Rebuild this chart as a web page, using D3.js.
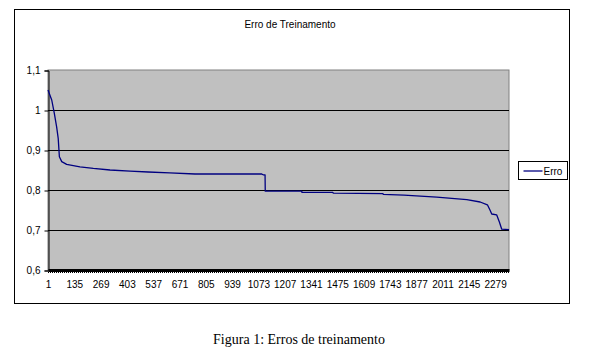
<!DOCTYPE html>
<html><head><meta charset="utf-8">
<script src="https://cdn.jsdelivr.net/npm/d3@7"></script>
<style>
html,body{margin:0;padding:0;background:#fff;}
svg{display:block;}
</style></head>
<body>
<script>
// ---- data ----
const nIterations = 2350;
const iterations = [1, 20, 33, 45, 53, 59, 71, 96, 164, 232, 317, 419, 511, 621, 750, 1090, 1097, 1107, 1108, 1294, 1295, 1453, 1454, 1708, 1709, 1815, 1982, 2135, 2203, 2240, 2253, 2262, 2287, 2301, 2313, 2350];
const errors     = [1.05, 1.025, 0.992, 0.958, 0.929, 0.883, 0.871, 0.864, 0.858, 0.854, 0.850, 0.847, 0.845, 0.843, 0.840, 0.840, 0.838, 0.838, 0.797, 0.797, 0.794, 0.794, 0.792, 0.791, 0.789, 0.787, 0.782, 0.776, 0.770, 0.763, 0.750, 0.740, 0.738, 0.720, 0.702, 0.701];
const xTickValues = [1, 135, 269, 403, 537, 671, 805, 939, 1073, 1207, 1341, 1475, 1609, 1743, 1877, 2011, 2145, 2279];
const yTickValues = [0.6, 0.7, 0.8, 0.9, 1.0, 1.1];
const yTickLabels = ["0,6", "0,7", "0,8", "0,9", "1", "1,1"];
const seriesName = "Erro";
const chartTitle = "Erro de Treinamento";
const caption = "Figura 1: Erros de treinamento";

// ---- layout ----
const W = 601, H = 361;
const plot = {x0: 48, x1: 509, y0: 70, y1: 270};
const svg = d3.select("body").append("svg").attr("width", W).attr("height", H);
const sans = "Arial, 'Liberation Sans', sans-serif";

// outer chart frame
svg.append("rect").attr("x", 14.5).attr("y", 9.5).attr("width", 555).attr("height", 294)
  .attr("fill", "#fff").attr("stroke", "#000").attr("stroke-width", 1);

// title
svg.append("text").attr("x", 290).attr("y", 28).attr("text-anchor", "middle")
  .attr("font-family", sans).attr("font-size", 10).attr("fill", "#000").text(chartTitle);

const x = d3.scaleLinear().domain([1, nIterations]).range([plot.x0, plot.x1]);
const y = d3.scaleLinear().domain([0.6, 1.1]).range([plot.y1, plot.y0]);

// plot background
svg.append("rect").attr("x", plot.x0).attr("y", plot.y0)
  .attr("width", plot.x1 - plot.x0).attr("height", plot.y1 - plot.y0)
  .attr("fill", "#c0c0c0").attr("stroke", "#808080").attr("stroke-width", 1);

// gridlines
svg.append("g").selectAll("line").data(yTickValues.filter(v => v > 0.6 && v < 1.1)).join("line")
  .attr("x1", plot.x0).attr("x2", plot.x1)
  .attr("y1", d => Math.round(y(d)) + 0.5).attr("y2", d => Math.round(y(d)) + 0.5)
  .attr("stroke", "#000").attr("stroke-width", 1);

// y axis
const yAxis = d3.axisLeft(y).tickValues(yTickValues).tickSize(4).tickPadding(4)
  .tickFormat((d, i) => yTickLabels[i]);
const gy = svg.append("g").attr("transform", `translate(${plot.x0 + 0.5},0.5)`).call(yAxis);
gy.select(".domain").attr("stroke", "#000");
gy.selectAll(".tick line").attr("stroke", "#000");
gy.selectAll("text").attr("font-family", sans).attr("font-size", 10).attr("fill", "#000");

// x axis
const xAxis = d3.axisBottom(x).tickValues(xTickValues).tickSize(0).tickPadding(11)
  .tickFormat(d3.format("d"));
const gx = svg.append("g").attr("transform", `translate(0,${plot.y1})`).call(xAxis);
gx.select(".domain").attr("stroke", "#000").attr("stroke-width", 3);
gx.selectAll("text").attr("font-family", sans).attr("font-size", 10).attr("fill", "#000");
// dense category tick marks below the axis
svg.append("line").attr("x1", plot.x0).attr("x2", plot.x1)
  .attr("y1", plot.y1 + 2.5).attr("y2", plot.y1 + 2.5)
  .attr("stroke", "#000").attr("stroke-width", 1).attr("stroke-dasharray", "1,1");

// series line
const line = d3.line().x((d, i) => x(iterations[i])).y(d => y(d));
svg.append("path").datum(errors).attr("d", line)
  .attr("fill", "none").attr("stroke", "#000080").attr("stroke-width", 1.3)
  .attr("stroke-linejoin", "round");

// legend
const lg = svg.append("g").attr("transform", "translate(518.5,161.5)");
lg.append("rect").attr("width", 49).attr("height", 18).attr("fill", "#fff")
  .attr("stroke", "#000").attr("stroke-width", 1);
lg.append("line").attr("x1", 5).attr("x2", 24).attr("y1", 9.5).attr("y2", 9.5)
  .attr("stroke", "#000080").attr("stroke-width", 1.3);
lg.append("text").attr("x", 25).attr("y", 13).attr("font-family", sans).attr("font-size", 10)
  .attr("fill", "#000").text(seriesName);

// caption
svg.append("text").attr("x", 299).attr("y", 344).attr("text-anchor", "middle")
  .attr("font-family", "'Liberation Serif', 'Times New Roman', serif").attr("font-size", 14)
  .attr("fill", "#000").text(caption);
</script>
</body></html>
